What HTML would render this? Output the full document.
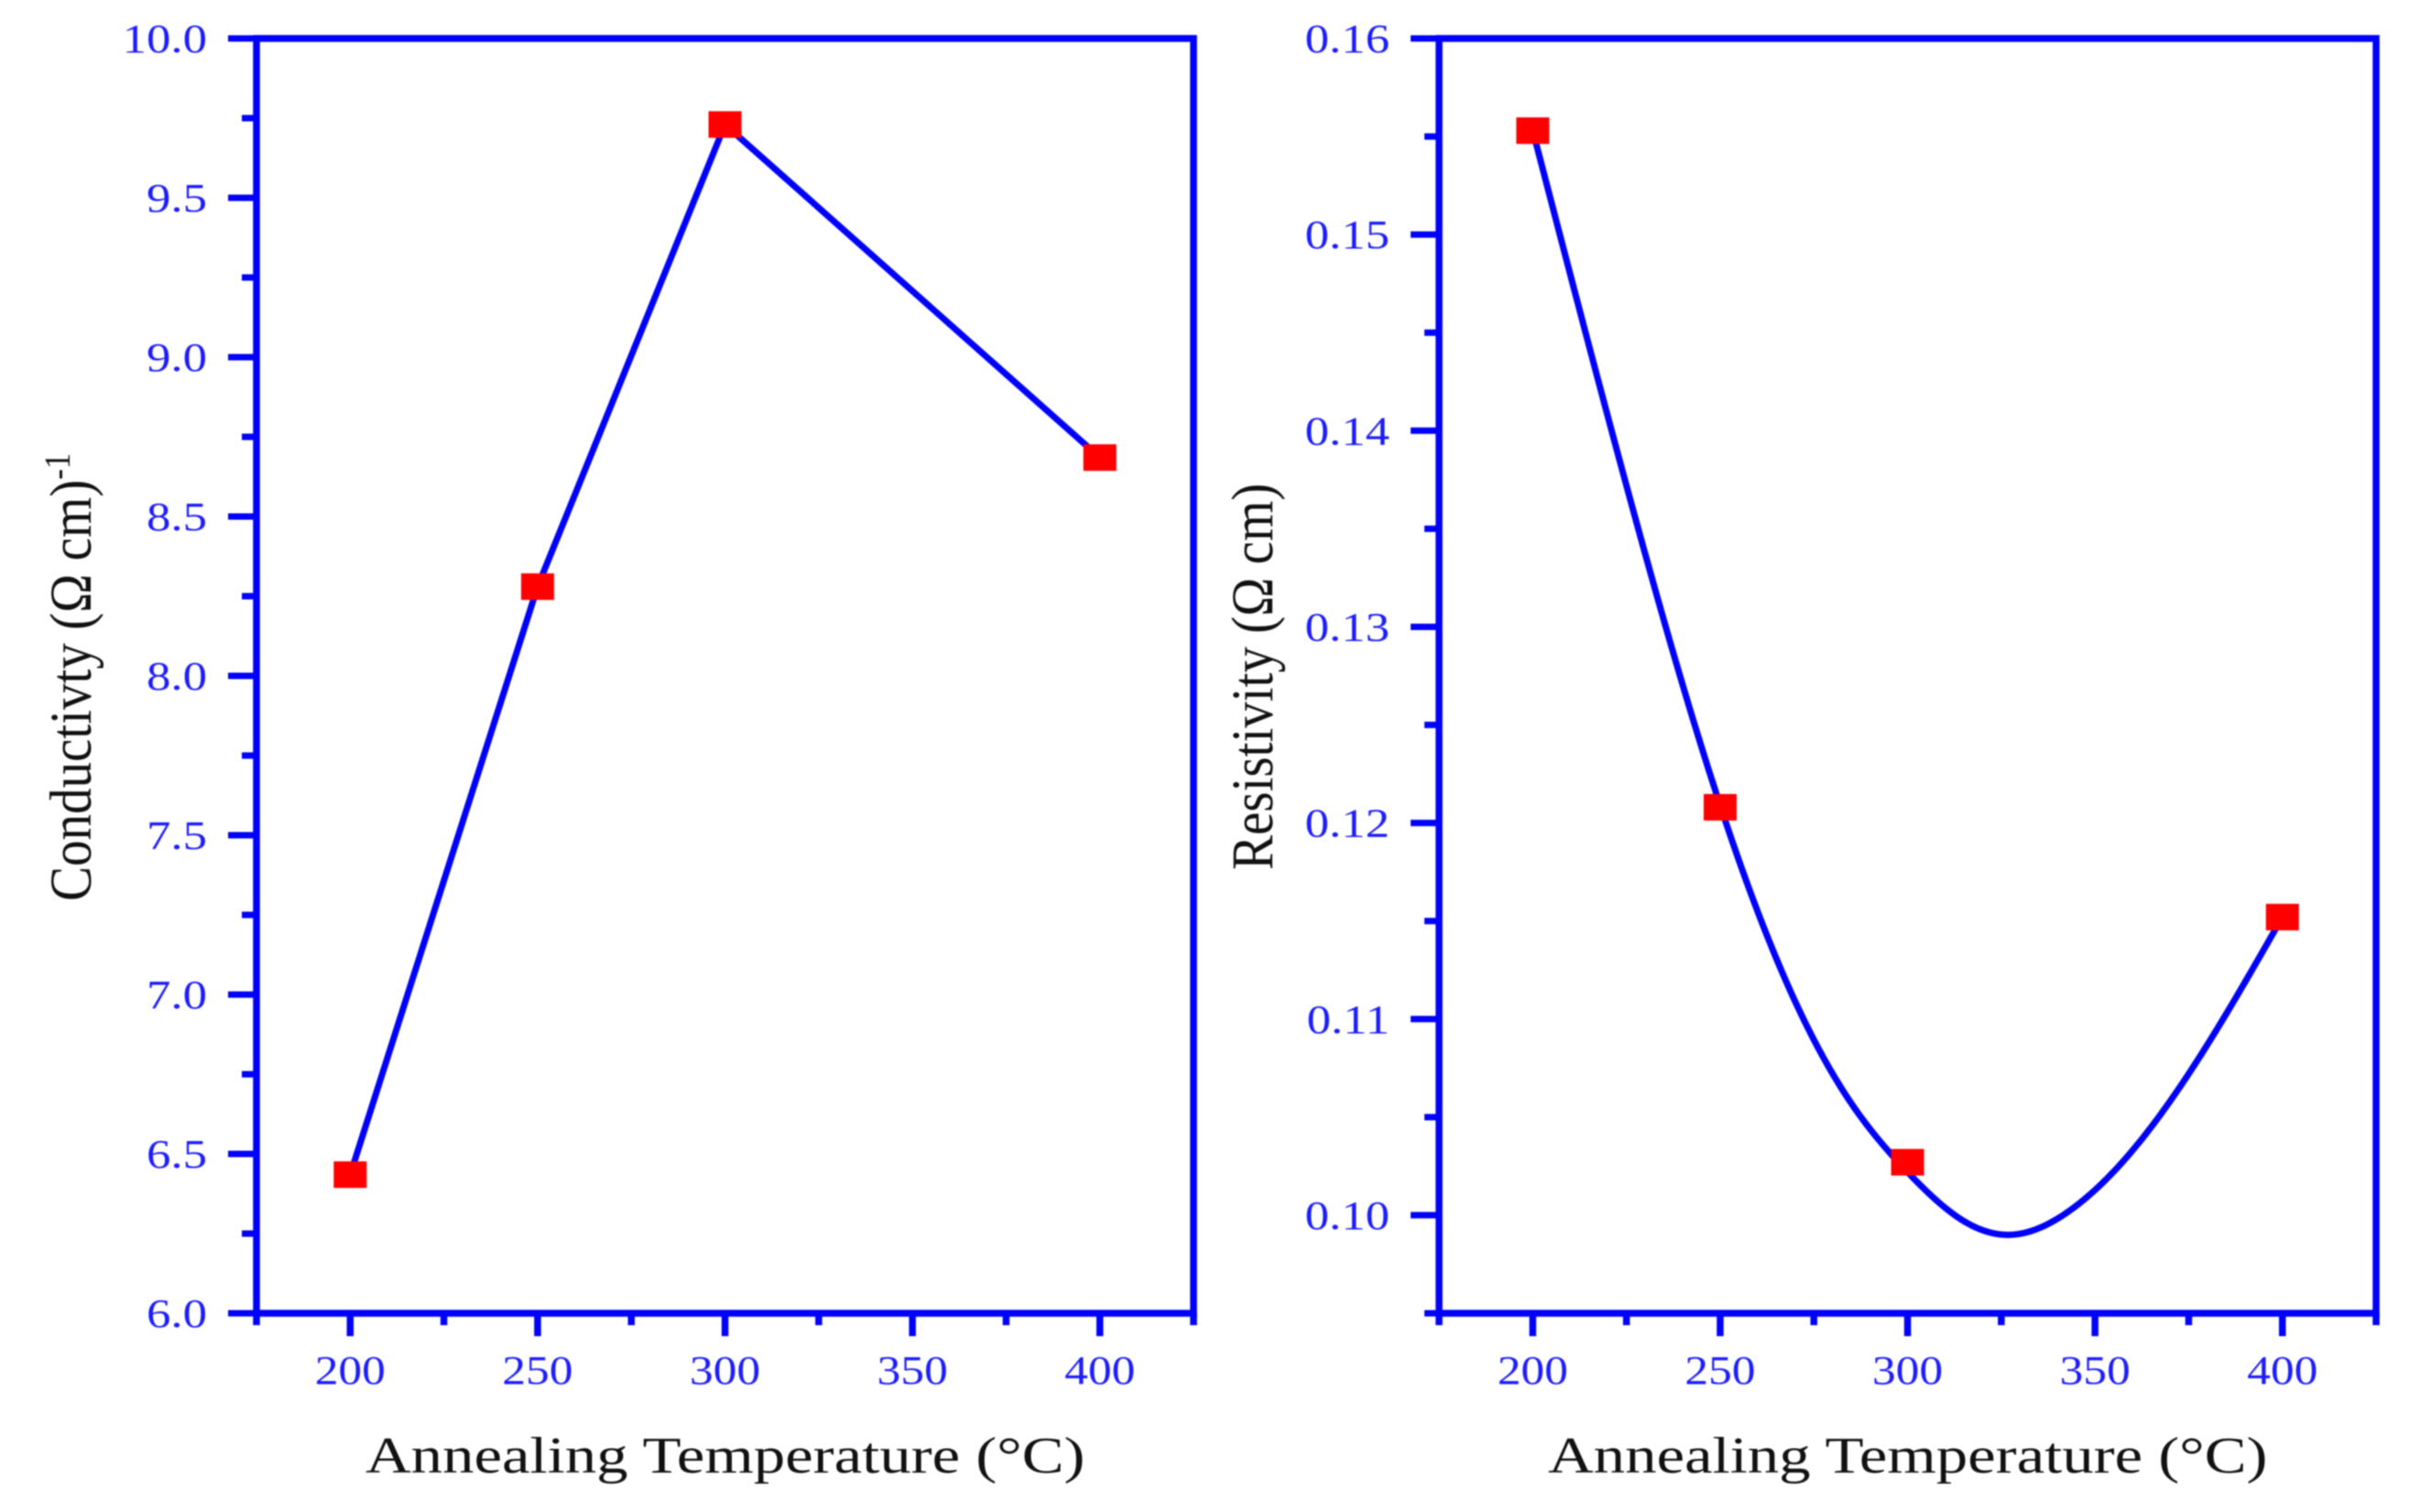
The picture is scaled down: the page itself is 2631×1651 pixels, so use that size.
<!DOCTYPE html>
<html>
<head>
<meta charset="utf-8">
<title>Conductivity and Resistivity vs Annealing Temperature</title>
<style>
html,body{margin:0;padding:0;background:#fff;width:2631px;height:1651px;overflow:hidden}
svg{display:block;filter:blur(0.8px)}
text{font-family:"Liberation Serif",serif}
.tick{fill:#1c1cff;font-size:44px}
.title{fill:#111;font-size:56px}
.title-y{fill:#111;font-size:57px}
</style>
</head>
<body>
<svg id="figure" xmlns="http://www.w3.org/2000/svg" width="2631" height="1651" viewBox="0 0 2631 1651">
  <g id="panel-left"></g>
  <g id="panel-right"></g>
  <text class="title" transform="translate(399,1608) scale(1.14,1)" textLength="689" lengthAdjust="spacingAndGlyphs">Annealing Temperature (°C)</text>
  <text class="title" transform="translate(1690,1608) scale(1.14,1)" textLength="689" lengthAdjust="spacingAndGlyphs">Annealing Temperature (°C)</text>
  <text class="title-y" transform="translate(99,984) rotate(-90) scale(1,1.14)">Conductivty (Ω cm)<tspan font-size="35" dy="-20">-1</tspan></text>
  <text class="title-y" transform="translate(1389,950) rotate(-90) scale(1,1.14)">Resistivity (Ω cm)</text>
</svg>
<script>
const temperatures = [200, 250, 300, 400];
const conductivityValues = [6.435, 8.28, 9.73, 8.685];
const resistivityValues = [0.1553, 0.1208, 0.1027, 0.1152];
const resistivityCurveTemps = [200, 225, 250, 270, 285, 300, 315, 327, 343, 360, 380, 400];
const resistivityCurveValues = [0.1553, 0.1372, 0.1209, 0.1109, 0.1057, 0.1022, 0.0997, 0.0990, 0.1002, 0.1033, 0.1087, 0.1152];
const xTickValues = [200, 250, 300, 350, 400];
const xMinorTickValues = [175, 225, 275, 325, 375, 425];
const conductivityTicks = [6.0, 6.5, 7.0, 7.5, 8.0, 8.5, 9.0, 9.5, 10.0];
const conductivityMinorTicks = [6.25, 6.75, 7.25, 7.75, 8.25, 8.75, 9.25, 9.75];
const resistivityTicks = [0.10, 0.11, 0.12, 0.13, 0.14, 0.15, 0.16];
const resistivityMinorTicks = [0.095, 0.105, 0.115, 0.125, 0.135, 0.145, 0.155];

const NS = 'http://www.w3.org/2000/svg';
const BLUE = '#0000ff';

function make(parent, tag, attrs) {
  const el = document.createElementNS(NS, tag);
  for (const k in attrs) el.setAttribute(k, attrs[k]);
  parent.appendChild(el);
  return el;
}

function naturalSpline(xs, ys, samples) {
  const n = xs.length - 1;
  const h = [], a = [], l = [1], mu = [0], z = [0], c = new Array(n + 1).fill(0), b = [], d = [];
  for (let i = 0; i < n; i++) h.push(xs[i + 1] - xs[i]);
  for (let i = 1; i < n; i++) a[i] = 3 * (ys[i + 1] - ys[i]) / h[i] - 3 * (ys[i] - ys[i - 1]) / h[i - 1];
  for (let i = 1; i < n; i++) {
    l[i] = 2 * (xs[i + 1] - xs[i - 1]) - h[i - 1] * mu[i - 1];
    mu[i] = h[i] / l[i];
    z[i] = (a[i] - h[i - 1] * z[i - 1]) / l[i];
  }
  for (let j = n - 1; j >= 0; j--) {
    c[j] = (j === 0 ? 0 : z[j] - mu[j] * c[j + 1]);
    b[j] = (ys[j + 1] - ys[j]) / h[j] - h[j] * (c[j + 1] + 2 * c[j]) / 3;
    d[j] = (c[j + 1] - c[j]) / (3 * h[j]);
  }
  const out = [];
  for (let j = 0; j < n; j++) {
    for (let s = 0; s <= samples; s++) {
      const t = h[j] * s / samples;
      out.push([xs[j] + t, ys[j] + b[j] * t + c[j] * t * t + d[j] * t * t * t]);
    }
  }
  return out;
}

function drawPanel(cfg) {
  const g = document.getElementById(cfg.id);
  const xScale = v => cfg.left + (v - 175) * (cfg.right - cfg.left) / 250;
  const yScale = v => cfg.bottom - (v - cfg.yMin) * (cfg.bottom - cfg.top) / (cfg.yMax - cfg.yMin);

  const frame = make(g, 'path', {
    d: 'M' + cfg.left + ' ' + cfg.bottom + 'V' + cfg.top + 'H' + cfg.right + 'V' + cfg.bottom + 'H' + cfg.left,
    fill: 'none', stroke: BLUE, 'stroke-width': 7.5
  });
  
  

  cfg.yTicks.forEach(v => {
    const y = yScale(v);
    const tick = make(g, 'line', { x1: cfg.left - 31, x2: cfg.left, y1: y, y2: y, stroke: BLUE, 'stroke-width': 7 });
    
    
    const label = make(g, 'text', { class: 'tick', 'text-anchor': 'end', transform: 'translate(' + (cfg.left - 54) + ',' + (y + 15) + ') scale(1.2,1)' });
    label.textContent = v.toFixed(cfg.yDigits);
    
    
  });
  cfg.yMinor.forEach(v => {
    const y = yScale(v);
    const tick = make(g, 'line', { x1: cfg.left - 16, x2: cfg.left, y1: y, y2: y, stroke: BLUE, 'stroke-width': 7 });
    
    
  });
  xTickValues.forEach(v => {
    const x = xScale(v);
    const tick = make(g, 'line', { x1: x, x2: x, y1: cfg.bottom, y2: cfg.bottom + 25, stroke: BLUE, 'stroke-width': 7.5 });
    
    
    const label = make(g, 'text', { class: 'tick', 'text-anchor': 'middle', transform: 'translate(' + x + ',1511) scale(1.17,1)' });
    label.textContent = String(v);
    
    
  });
  xMinorTickValues.forEach(v => {
    const x = xScale(v);
    const tick = make(g, 'line', { x1: x, x2: x, y1: cfg.bottom, y2: cfg.bottom + 13, stroke: BLUE, 'stroke-width': 7.5 });
    
    
  });

  const pts = cfg.curveTemps
    ? naturalSpline(cfg.curveTemps, cfg.curveValues, 24)
    : temperatures.map((t, i) => [t, cfg.values[i]]);
  const line = make(g, 'polyline', {
    points: pts.map(p => xScale(p[0]).toFixed(2) + ',' + yScale(p[1]).toFixed(2)).join(' '),
    fill: 'none', stroke: BLUE, 'stroke-width': 7, 'stroke-linejoin': 'round'
  });
  
  

  temperatures.forEach((t, i) => {
    const marker = make(g, 'rect', { x: xScale(t) - 18, y: yScale(cfg.values[i]) - 14.5, width: 36, height: 29, fill: '#ff0000' });
    
    
  });
}

drawPanel({
  id: 'panel-left', left: 280, right: 1303, top: 42, bottom: 1434,
  yMin: 6, yMax: 10, yDigits: 1,
  yTicks: conductivityTicks, yMinor: conductivityMinorTicks,
  values: conductivityValues,
  lineName: 'conductivity-line', markerName: 'conductivity-point'
});
drawPanel({
  id: 'panel-right', left: 1571, right: 2594, top: 42, bottom: 1434,
  yMin: 0.095, yMax: 0.16, yDigits: 2,
  yTicks: resistivityTicks, yMinor: resistivityMinorTicks,
  values: resistivityValues,
  curveTemps: resistivityCurveTemps, curveValues: resistivityCurveValues,
  lineName: 'resistivity-curve', markerName: 'resistivity-point'
});
</script>
</body>
</html>
